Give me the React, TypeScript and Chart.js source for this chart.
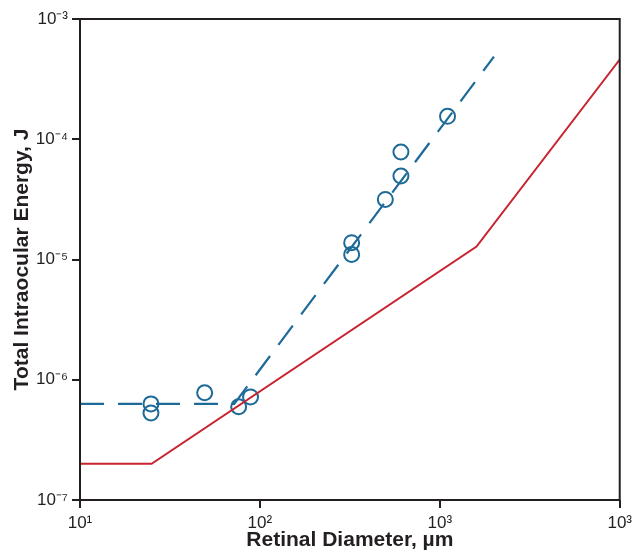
import React, { useEffect, useRef } from "react";
import { Chart, registerables } from "chart.js";

Chart.register(...registerables);

// Model threshold curve (red, solid)
const redX = [10, 25, 1600, 10000];
const redY = [2e-7, 2e-7, 1.28e-5, 4.6e-4];

// Fit to experiment (blue, dashed)
const fitX = [10, 72, 2000];
const fitY = [6.3e-7, 6.3e-7, 4.86e-4];

// Measured points (blue open circles)
const ptsX = [24.8, 24.8, 49.3, 76.2, 88.7, 323.6, 323.6, 498, 608, 608, 1104];
const ptsY = [6.3e-7, 5.3e-7, 7.8e-7, 5.96e-7, 7.2e-7, 1.38e-5, 1.1e-5, 3.16e-5, 4.95e-5, 7.83e-5, 1.55e-4];

const xTickValues = [10, 100, 1000, 10000];
const xTickLabels = ["10¹", "10²", "10³", "10³"];
const yTickValues = [1e-7, 1e-6, 1e-5, 1e-4, 1e-3];
const yTickLabels = ["10⁻⁷", "10⁻⁶", "10⁻⁵", "10⁻⁴", "10⁻³"];

const xTitle = "Retinal Diameter, µm";
const yTitle = "Total Intraocular Energy, J";

const RED = "#c8242f";
const BLUE = "#1d6a98";
const AXIS = "#231f20";
const FONT = "'Liberation Sans', Arial, Helvetica, sans-serif";

const zip = (xs: number[], ys: number[]) => xs.map((x, i) => ({ x, y: ys[i] }));

const boxPlugin = {
  id: "box",
  afterDraw(chart: any) {
    const { ctx, chartArea } = chart;
    ctx.save();
    ctx.strokeStyle = AXIS;
    ctx.lineWidth = 2;
    ctx.strokeRect(chartArea.left, chartArea.top, chartArea.right - chartArea.left, chartArea.bottom - chartArea.top);
    ctx.restore();
  },
};

export default function App() {
  const ref = useRef<HTMLCanvasElement>(null);
  useEffect(() => {
    document.body.style.margin = "0";
    const chart = new Chart(ref.current!, {
      type: "line",
      data: {
        datasets: [
          {
            type: "scatter",
            data: zip(ptsX, ptsY),
            borderColor: BLUE,
            backgroundColor: "rgba(0,0,0,0)",
            pointRadius: 7.5,
            pointBorderWidth: 2,
            showLine: false,
            order: 2,
          } as any,
          {
            data: zip(fitX, fitY),
            borderColor: BLUE,
            borderWidth: 2.2,
            borderDash: [24, 14],
            pointRadius: 0,
            fill: false,
            order: 1,
          },
          {
            data: zip(redX, redY),
            borderColor: RED,
            borderWidth: 2,
            pointRadius: 0,
            fill: false,
            order: 0,
          },
        ],
      },
      options: {
        animation: false,
        responsive: false,
        maintainAspectRatio: false,
        layout: { padding: { top: 19, right: 16, left: 0, bottom: 0 } },
        plugins: { legend: { display: false }, tooltip: { enabled: false } },
        scales: {
          x: {
            type: "logarithmic",
            min: 10,
            max: 10000,
            afterBuildTicks: (s: any) => {
              s.ticks = xTickValues.map((v) => ({ value: v }));
            },
            afterFit: (s: any) => {
              s.height = 54;
            },
            ticks: {
              autoSkip: false,
              maxRotation: 0,
              padding: 5,
              color: AXIS,
              font: { family: FONT, size: 17 },
              callback: (v: any) => {
                const i = xTickValues.findIndex((t) => Math.abs(Math.log10(t) - Math.log10(v)) < 1e-6);
                return i >= 0 ? xTickLabels[i] : "";
              },
            },
            grid: { drawOnChartArea: false, drawTicks: true, tickLength: 8, color: AXIS, lineWidth: 2 },
            border: { display: false },
            title: {
              display: true,
              text: xTitle,
              color: AXIS,
              font: { family: FONT, size: 21, weight: "bold" },
              padding: { top: 0, bottom: 1 },
            },
          },
          y: {
            type: "logarithmic",
            min: 1e-7,
            max: 1e-3,
            afterBuildTicks: (s: any) => {
              s.ticks = yTickValues.map((v) => ({ value: v }));
            },
            afterFit: (s: any) => {
              s.width = 80;
            },
            ticks: {
              autoSkip: false,
              padding: 4,
              color: AXIS,
              font: { family: FONT, size: 17 },
              callback: (v: any) => {
                const i = yTickValues.findIndex((t) => Math.abs(Math.log10(t) - Math.log10(v)) < 1e-6);
                return i >= 0 ? yTickLabels[i] : "";
              },
            },
            grid: { drawOnChartArea: false, drawTicks: true, tickLength: 8, color: AXIS, lineWidth: 2 },
            border: { display: false },
            title: {
              display: true,
              text: yTitle,
              color: AXIS,
              font: { family: FONT, size: 21, weight: "bold" },
              padding: { top: 10, bottom: 0 },
            },
          },
        },
      } as any,
      plugins: [boxPlugin],
    });
    return () => chart.destroy();
  }, []);
  return (
    <div style={{ width: 637, height: 554, background: "#fff" }}>
      <canvas ref={ref} width={637} height={554} style={{ display: "block" }} />
    </div>
  );
}
